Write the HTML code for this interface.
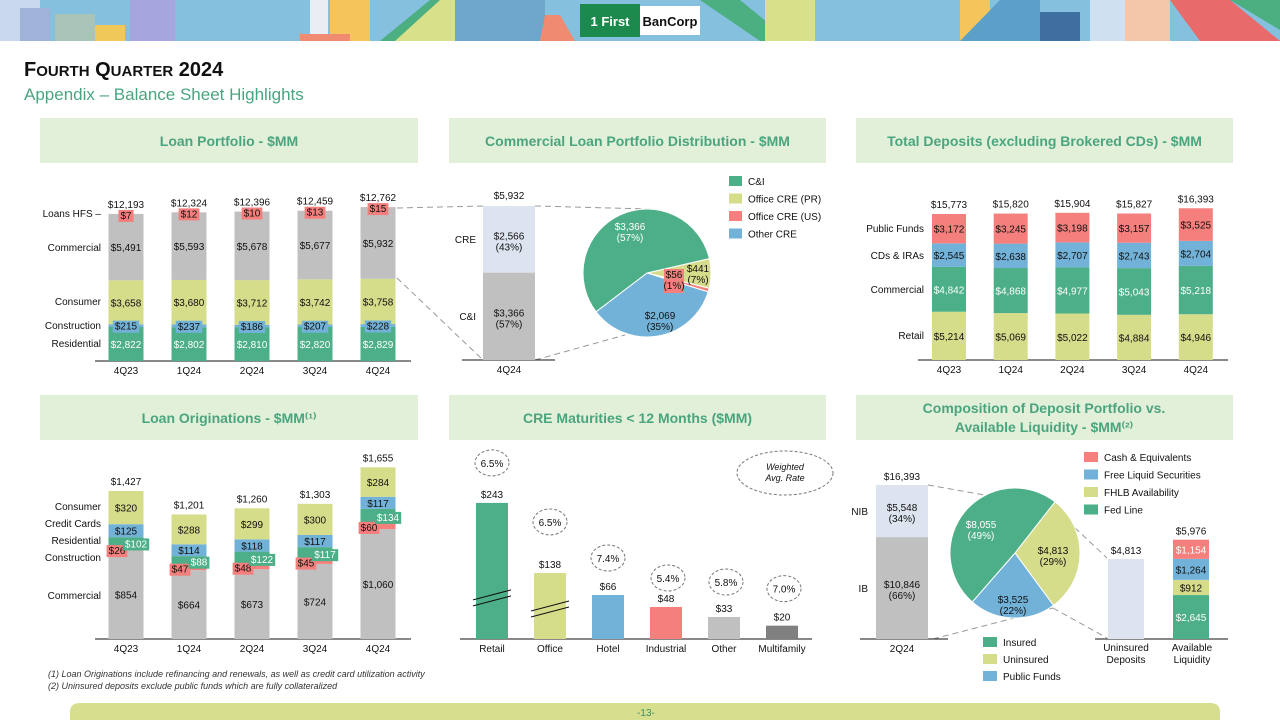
<!DOCTYPE html>
<html><head><meta charset="utf-8">
<style>
html,body{margin:0;padding:0;background:#fff;}
body{width:1280px;height:720px;overflow:hidden;font-family:"Liberation Sans",sans-serif;}
svg{display:block}
</style></head>
<body>
<svg id="s" width="1280" height="720" viewBox="0 0 1280 720" xmlns="http://www.w3.org/2000/svg">
<g>
<rect x="0" y="0" width="1280" height="41" fill="#86c0df"/>
<rect x="0" y="0" width="40" height="41" fill="#c9d8ef"/>
<rect x="20" y="8" width="30" height="33" fill="#9fb3d8"/>
<rect x="55" y="14" width="40" height="27" fill="#a8c4b8"/>
<rect x="95" y="25" width="30" height="16" fill="#f0c85a"/>
<rect x="130" y="0" width="45" height="41" fill="#a7a5de"/>
<rect x="310" y="0" width="18" height="34" fill="#e9eef5"/>
<rect x="330" y="0" width="40" height="41" fill="#f5c45a"/>
<rect x="300" y="34" width="50" height="7" fill="#f08a70"/>
<polygon points="380,41 430,0 460,0 460,41" fill="#4caf82"/>
<polygon points="395,41 440,0 455,0 455,41" fill="#d8e08a"/>
<rect x="455" y="0" width="90" height="41" fill="#6fa7cc"/>
<polygon points="540,41 545,15 560,15 575,41" fill="#f08a70"/>
<polygon points="700,0 760,41 790,41 740,0" fill="#4caf82"/>
<rect x="765" y="0" width="50" height="41" fill="#d8e08a"/>
<rect x="960" y="0" width="30" height="41" fill="#f5c45a"/>
<polygon points="960,41 1000,0 1040,0 1040,41" fill="#5aa0c8"/>
<rect x="1040" y="12" width="40" height="29" fill="#3e6fa0"/>
<rect x="1090" y="0" width="35" height="41" fill="#cfe0f0"/>
<rect x="1125" y="0" width="45" height="41" fill="#f3c7a8"/>
<polygon points="1170,0 1230,0 1280,41 1200,41" fill="#e86a6a"/>
<polygon points="1230,0 1280,0 1280,30" fill="#4caf82"/>
<rect x="580" y="4" width="60" height="33" fill="#1c8a4c"/>
<rect x="640" y="6" width="60" height="29" fill="#fff"/>
<text x="610" y="26" font-size="13" font-weight="bold" fill="#fff" text-anchor="middle">1 First</text>
<text x="670" y="26" font-size="13" font-weight="bold" fill="#111" text-anchor="middle">BanCorp</text>
</g>
<text x="24" y="76" font-size="20" font-weight="bold" fill="#111">F<tspan font-size="15">OURTH</tspan> Q<tspan font-size="15">UARTER</tspan> 2024</text>
<text x="24" y="100" font-size="17" fill="#4aa57f">Appendix – Balance Sheet Highlights</text>
<g id="hdrs"></g>
<g id="lines" fill="none" stroke="#999" stroke-dasharray="6,4" stroke-width="1"></g>
<g id="c1"></g><g id="c2"></g><g id="c3"></g><g id="c4"></g><g id="c5"></g><g id="c6"></g>
<text x="48" y="677" font-size="9" font-style="italic" fill="#333">(1)     Loan Originations include refinancing and renewals, as well as credit card utilization activity</text>
<text x="48" y="689" font-size="9" font-style="italic" fill="#333">(2)     Uninsured deposits exclude public funds which are fully collateralized</text>
<path d="M70,720 L70,712 Q70,703 80,703 L1210,703 Q1220,703 1220,712 L1220,720 Z" fill="#d5df8e"/>
<text x="646" y="716" font-size="10" fill="#3f8f65" text-anchor="middle">-13-</text>
</svg>
<script>
// ---- data ----
const quarters = ['4Q23','1Q24','2Q24','3Q24','4Q24'];
const loanResidential = [2822,2802,2810,2820,2829];
const loanConstruction = [215,237,186,207,228];
const loanConsumer = [3658,3680,3712,3742,3758];
const loanCommercial = [5491,5593,5678,5677,5932];
const loanHFS = [7,12,10,13,15];
const loanTotals = ['$12,193','$12,324','$12,396','$12,459','$12,762'];

const commCI = 3366;
const commCRE = 2566;
const pieCatNames = ['Office CRE (PR)','Office CRE (US)','Other CRE','C&I'];
const pieCatValues = [441,56,2069,3366];
const pieCatPct = ['7%','1%','35%','57%'];

const depRetail = [5214,5069,5022,4884,4946];
const depCommercial = [4842,4868,4977,5043,5218];
const depCDs = [2545,2638,2707,2743,2704];
const depPublic = [3172,3245,3198,3157,3525];
const depTotals = ['$15,773','$15,820','$15,904','$15,827','$16,393'];

const origCommercial = [854,664,673,724,1060];
const origConstruction = [26,47,48,45,60];
const origResidential = [102,88,122,117,134];
const origCards = [125,114,118,117,117];
const origConsumer = [320,288,299,300,284];
const origTotals = ['$1,427','$1,201','$1,260','$1,303','$1,655'];

const creCats = ['Retail','Office','Hotel','Industrial','Other','Multifamily'];
const creValues = [243,138,66,48,33,20];
const creRates = ['6.5%','6.5%','7.4%','5.4%','5.8%','7.0%'];

const depNIB = 5548, depIB = 10846;
const depTotal2Q24 = '$16,393';
const compNames = ['Uninsured','Public Funds','Insured'];
const compValues = [4813,3525,8055];
const compPct = ['29%','22%','49%'];
const liqNames = ['Fed Line','FHLB Availability','Free Liquid Securities','Cash & Equivalents'];
const liqValues = [2645,912,1264,1154];
const liqTotal = '$5,976';

// ---- helpers ----
const NS='http://www.w3.org/2000/svg';
const G='#4daf88',Y='#d5dc8a',B='#72b2d8',P='#f47f7c',GR='#c0c0c0',LB='#dde4ef',DG='#808080';
const fmt=v=>'$'+v.toLocaleString('en-US');
function mk(p,tag,attrs,name){const e=document.createElementNS(NS,tag);for(const k in attrs)e.setAttribute(k,attrs[k]);


p.appendChild(e);return e;}
function tx(p,x,y,s,name,o={}){const e=mk(p,'text',{x:x,y:y,'font-size':o.fs||10,fill:o.fill||'#111','text-anchor':o.anchor||'middle','font-style':o.it||'normal','font-weight':o.fw||'normal'},name);e.textContent=s;return e;}
function boxLabel(p,x,y,s,bg,name,fill){const w=s.length*5.6+4;mk(p,'rect',{x:x-w/2,y:y-9,width:w,height:12,fill:bg},name+'-bg');tx(p,x,y,s,name,{fill:fill||'#111'});}
const $=id=>document.getElementById(id);

// headers
const hd=$('hdrs');
[[40,118,378,45,'Loan Portfolio - $MM'],[449,118,377,45,'Commercial Loan Portfolio Distribution - $MM'],[856,118,377,45,'Total Deposits (excluding Brokered CDs) - $MM'],
 [40,395,378,45,'Loan Originations - $MM⁽¹⁾'],[449,395,377,45,'CRE Maturities < 12 Months ($MM)'],[856,395,377,45,'']].forEach((h,i)=>{
 mk(hd,'rect',{x:h[0],y:h[1],width:h[2],height:h[3],fill:'#e2efd9'},'panel-header-'+i);
 if(h[4])tx(hd,h[0]+h[2]/2,h[1]+28,h[4],'panel-title-'+i,{fs:14,fw:'bold',fill:'#4aa57f'});
});
tx(hd,1044,413,'Composition of Deposit Portfolio vs.','panel-title-5a',{fs:14,fw:'bold',fill:'#4aa57f'});
tx(hd,1044,432,'Available Liquidity - $MM⁽²⁾','panel-title-5b',{fs:14,fw:'bold',fill:'#4aa57f'});

// chart 1 loan portfolio
(function(){const g=$('c1');const base=361,s=0.01206,cx=i=>126+i*63,w=35;
 mk(g,'line',{x1:95,y1:base,x2:411,y2:base,stroke:'#111'},'x-axis');
 quarters.forEach((q,i)=>{let y=base;
  const segs=[[loanResidential[i],G,'residential'],[loanConstruction[i],B,'construction'],[loanConsumer[i],Y,'consumer'],[loanCommercial[i],GR,'commercial'],[loanHFS[i],P,'hfs']];
  const mids=[];
  segs.forEach(sg=>{const h=sg[0]*s;y-=h;mk(g,'rect',{x:cx(i)-w/2,y:y,width:w,height:h,fill:sg[1]},'bar-'+sg[2]+'-'+q);mids.push(y+h/2);});
  tx(g,cx(i),mids[0]+4,fmt(segs[0][0]),'label-residential-'+q,{fill:'#fff'});
  boxLabel(g,cx(i),mids[1]+4,fmt(segs[1][0]),B,'label-construction-'+q);
  tx(g,cx(i),mids[2]+4,fmt(segs[2][0]),'label-consumer-'+q);
  tx(g,cx(i),mids[3]+4,fmt(segs[3][0]),'label-commercial-'+q);
  boxLabel(g,cx(i),y+5,fmt(segs[4][0]),P,'label-hfs-'+q);
  tx(g,cx(i),y-6,loanTotals[i],'total-'+q);
  tx(g,cx(i),base+13,q,'x-tick-'+q);
 });
 [['Loans HFS –',217],['Commercial',251],['Consumer',305],['Construction',329],['Residential',347]].forEach(l=>tx(g,101,l[1],l[0],'series-label-'+l[0].replace(/\W+/g,'-').toLowerCase(),{anchor:'end'}));
})();

// chart 2 commercial distribution
(function(){const g=$('c2');const base=360,s=154/5932,x0=483,w=52;
 mk(g,'line',{x1:462,y1:base,x2:555,y2:base,stroke:'#111'},'x-axis');
 const hCI=commCI*s,hCRE=commCRE*s;
 mk(g,'rect',{x:x0,y:base-hCI,width:w,height:hCI,fill:GR},'bar-ci');
 mk(g,'rect',{x:x0,y:base-hCI-hCRE,width:w,height:hCRE,fill:LB},'bar-cre');
 const tot=commCI+commCRE;
 tx(g,x0+w/2,base-hCI/2,fmt(commCI),'label-ci');tx(g,x0+w/2,base-hCI/2+11,'('+Math.round(commCI/tot*100)+'%)','label-ci-pct');
 tx(g,x0+w/2,base-hCI-hCRE/2,fmt(commCRE),'label-cre');tx(g,x0+w/2,base-hCI-hCRE/2+11,'('+Math.round(commCRE/tot*100)+'%)','label-cre-pct');
 tx(g,x0+w/2,base-hCI-hCRE-7,fmt(tot),'total-4q24');
 tx(g,x0+w/2,base+13,'4Q24','x-tick-4q24');
 tx(g,476,243,'CRE','series-label-cre',{anchor:'end'});tx(g,476,320,'C&I','series-label-ci',{anchor:'end'});
 const cxp=647,cyp=273,r=64;const cols=[Y,P,B,G];const sum=pieCatValues.reduce((a,b)=>a+b,0);let a=-13*Math.PI/180;
 pieCatValues.forEach((v,i)=>{const da=v/sum*2*Math.PI;const a2=a+da;
  const x1=cxp+r*Math.cos(a),y1=cyp+r*Math.sin(a),x2=cxp+r*Math.cos(a2),y2=cyp+r*Math.sin(a2);
  mk(g,'path',{d:`M${cxp},${cyp}L${x1},${y1}A${r},${r} 0 ${da>Math.PI?1:0} 1 ${x2},${y2}Z`,fill:cols[i],stroke:'#fff','stroke-width':1},'pie-slice-'+pieCatNames[i].replace(/\W+/g,'-').toLowerCase());
  a=a2;});
 tx(g,630,230,fmt(3366),'pie-label-ci',{fill:'#fff'});tx(g,630,241,'(57%)','pie-label-ci-pct',{fill:'#fff'});
 tx(g,660,319,fmt(2069),'pie-label-other');tx(g,660,330,'(35%)','pie-label-other-pct');
 mk(g,'rect',{x:664,y:269,width:20,height:24,fill:P},'pie-label-us-bg');
 tx(g,674,278,'$56','pie-label-us');tx(g,674,289,'(1%)','pie-label-us-pct');
 tx(g,698,272,'$441','pie-label-pr');tx(g,698,283,'(7%)','pie-label-pr-pct');
 ['C&I','Office CRE (PR)','Office CRE (US)','Other CRE'].forEach((n,i)=>{const y=176+i*17.5;mk(g,'rect',{x:729,y:y,width:13,height:10,fill:[G,Y,P,B][i]},'legend-swatch-'+i);tx(g,748,y+9,n,'legend-entry-'+i,{anchor:'start'});});
})();

// chart 3 deposits
(function(){const g=$('c3');const base=360,s=146/15773,cx=i=>949+i*61.7,w=34;
 mk(g,'line',{x1:918,y1:base,x2:1228,y2:base,stroke:'#111'},'x-axis');
 quarters.forEach((q,i)=>{let y=base;const segs=[[depRetail[i],Y,'retail','#111'],[depCommercial[i],G,'commercial','#fff'],[depCDs[i],B,'cds','#111'],[depPublic[i],P,'public','#111']];
  segs.forEach(sg=>{const h=sg[0]*s;y-=h;mk(g,'rect',{x:cx(i)-w/2,y:y,width:w,height:h,fill:sg[1]},'bar-'+sg[2]+'-'+q);tx(g,cx(i),y+h/2+4,fmt(sg[0]),'label-'+sg[2]+'-'+q,{fill:sg[3]});});
  tx(g,cx(i),y-6,depTotals[i],'total-'+q);tx(g,cx(i),base+13,q,'x-tick-'+q);});
 [['Public Funds',232],['CDs & IRAs',259],['Commercial',293],['Retail',339]].forEach(l=>tx(g,924,l[1],l[0],'series-label-'+l[0].replace(/\W+/g,'-').toLowerCase(),{anchor:'end'}));
})();

// chart 4 originations
(function(){const g=$('c4');const base=639,s=148/1427,cx=i=>126+i*63,w=35;
 mk(g,'line',{x1:95,y1:base,x2:411,y2:base,stroke:'#111'},'x-axis');
 quarters.forEach((q,i)=>{let y=base;const segs=[[origCommercial[i],GR,'commercial'],[origConstruction[i],P,'construction'],[origResidential[i],G,'residential'],[origCards[i],B,'cards'],[origConsumer[i],Y,'consumer']];const m=[];
  segs.forEach(sg=>{const h=sg[0]*s;y-=h;mk(g,'rect',{x:cx(i)-w/2,y:y,width:w,height:h,fill:sg[1]},'bar-'+sg[2]+'-'+q);m.push(y+h/2);});
  tx(g,cx(i),m[0]+4,fmt(segs[0][0]),'label-commercial-'+q);
  boxLabel(g,cx(i)-9,m[1]+5,fmt(segs[1][0]),P,'label-construction-'+q);
  boxLabel(g,cx(i)+10,m[2]+5,fmt(segs[2][0]),G,'label-residential-'+q,'#fff');
  tx(g,cx(i),m[3]+4,fmt(segs[3][0]),'label-cards-'+q);
  tx(g,cx(i),m[4]+4,fmt(segs[4][0]),'label-consumer-'+q);
  tx(g,cx(i),y-6,origTotals[i],'total-'+q);tx(g,cx(i),base+13,q,'x-tick-'+q);});
 [['Consumer',510],['Credit Cards',527],['Residential',544],['Construction',561],['Commercial',599]].forEach(l=>tx(g,101,l[1],l[0],'series-label-'+l[0].replace(/\W+/g,'-').toLowerCase(),{anchor:'end'}));
})();

// chart 5 CRE maturities
(function(){const g=$('c5');const base=639,s=0.667,brk=26,cx=i=>492+i*58,w=32;const cols=[G,Y,B,P,GR,DG];
 mk(g,'line',{x1:460,y1:base,x2:812,y2:base,stroke:'#111'},'x-axis');
 const offs=[40,51,37,29,35,37];
 creValues.forEach((v,i)=>{const h=v>100?v*s-brk:v*s;const top=base-h;
  mk(g,'rect',{x:cx(i)-w/2,y:top,width:w,height:h,fill:cols[i]},'bar-'+creCats[i].toLowerCase());
  tx(g,cx(i),top-5,fmt(v),'label-'+creCats[i].toLowerCase());
  tx(g,cx(i),base+13,creCats[i],'x-tick-'+creCats[i].toLowerCase());
  const ey=top-offs[i];mk(g,'ellipse',{cx:cx(i)+(i>2?2:0),cy:ey,rx:17,ry:13,fill:'none',stroke:'#777','stroke-dasharray':'3,2'},'rate-bubble-'+creCats[i].toLowerCase());
  tx(g,cx(i)+(i>2?2:0),ey+4,creRates[i],'rate-'+creCats[i].toLowerCase());
  if(v>100){const by=base-h+(i==0?92:33);[0,6].forEach(d=>mk(g,'line',{x1:cx(i)-19,y1:by+d+5,x2:cx(i)+19,y2:by+d-5,stroke:'#111'},'axis-break-'+creCats[i].toLowerCase()));}
 });
 mk(g,'ellipse',{cx:785,cy:473,rx:48,ry:22,fill:'none',stroke:'#777','stroke-dasharray':'3,2'},'weighted-rate-note-bubble');
 tx(g,785,470,'Weighted','weighted-rate-note-1',{fs:9,it:'italic'});tx(g,785,481,'Avg. Rate','weighted-rate-note-2',{fs:9,it:'italic'});
})();

// chart 6 deposit composition
(function(){const g=$('c6');const base=639,s=154/16393;
 mk(g,'line',{x1:860,y1:base,x2:948,y2:base,stroke:'#111'},'x-axis-left');
 mk(g,'line',{x1:1095,y1:base,x2:1228,y2:base,stroke:'#111'},'x-axis-right');
 const hIB=depIB*s,hNIB=depNIB*s,tot=depIB+depNIB;
 mk(g,'rect',{x:876,y:base-hIB,width:52,height:hIB,fill:GR},'bar-ib');
 mk(g,'rect',{x:876,y:base-hIB-hNIB,width:52,height:hNIB,fill:LB},'bar-nib');
 tx(g,902,base-hIB/2,fmt(depIB),'label-ib');tx(g,902,base-hIB/2+11,'('+Math.round(depIB/tot*100)+'%)','label-ib-pct');
 tx(g,902,base-hIB-hNIB/2,fmt(depNIB),'label-nib');tx(g,902,base-hIB-hNIB/2+11,'('+Math.round(depNIB/tot*100)+'%)','label-nib-pct');
 tx(g,902,base-hIB-hNIB-5,depTotal2Q24,'total-2q24');tx(g,902,base+13,'2Q24','x-tick-2q24');
 tx(g,868,515,'NIB','series-label-nib',{anchor:'end'});tx(g,868,592,'IB','series-label-ib',{anchor:'end'});
 const cxp=1015,cyp=553,r=65;const cols=[Y,B,G];const sum=compValues.reduce((a,b)=>a+b,0);let a=-52*Math.PI/180;
 compValues.forEach((v,i)=>{const da=v/sum*2*Math.PI,a2=a+da;const x1=cxp+r*Math.cos(a),y1=cyp+r*Math.sin(a),x2=cxp+r*Math.cos(a2),y2=cyp+r*Math.sin(a2);
  mk(g,'path',{d:`M${cxp},${cyp}L${x1},${y1}A${r},${r} 0 ${da>Math.PI?1:0} 1 ${x2},${y2}Z`,fill:cols[i],stroke:'#fff','stroke-width':1},'pie-slice-'+compNames[i].replace(/\W+/g,'-').toLowerCase());a=a2;});
 tx(g,981,528,fmt(8055),'pie-label-insured',{fill:'#fff'});tx(g,981,539,'('+compPct[2]+')','pie-label-insured-pct',{fill:'#fff'});
 tx(g,1053,554,fmt(4813),'pie-label-uninsured');tx(g,1053,565,'('+compPct[0]+')','pie-label-uninsured-pct');
 tx(g,1013,603,fmt(3525),'pie-label-public');tx(g,1013,614,'('+compPct[1]+')','pie-label-public-pct');
 const ls=0.01662;const hU=compValues[0]*ls;
 mk(g,'rect',{x:1108,y:base-hU,width:36,height:hU,fill:LB},'bar-uninsured-deposits');
 tx(g,1126,base-hU-5,fmt(compValues[0]),'label-uninsured-deposits');
 let y=base;const lc=[G,Y,B,P];const lf=['#fff','#111','#111','#fff'];
 liqValues.forEach((v,i)=>{const h=v*ls;y-=h;mk(g,'rect',{x:1173,y:y,width:36,height:h,fill:lc[i]},'bar-liquidity-'+liqNames[i].replace(/\W+/g,'-').toLowerCase());tx(g,1191,y+h/2+4,fmt(v),'label-liquidity-'+i,{fill:lf[i]});});
 tx(g,1191,y-5,liqTotal,'total-liquidity');
 tx(g,1126,651,'Uninsured','x-tick-uninsured-1');tx(g,1126,663,'Deposits','x-tick-uninsured-2');
 tx(g,1192,651,'Available','x-tick-liquidity-1');tx(g,1192,663,'Liquidity','x-tick-liquidity-2');
 ['Cash & Equivalents','Free Liquid Securities','FHLB Availability','Fed Line'].forEach((n,i)=>{const yy=452+i*17.5;mk(g,'rect',{x:1084,y:yy,width:14,height:10,fill:[P,B,Y,G][i]},'legend-swatch-liq-'+i);tx(g,1104,yy+9,n,'legend-entry-liq-'+i,{anchor:'start'});});
 ['Insured','Uninsured','Public Funds'].forEach((n,i)=>{const yy=637+i*17;mk(g,'rect',{x:983,y:yy,width:14,height:10,fill:[G,Y,B][i]},'legend-swatch-dep-'+i);tx(g,1003,yy+9,n,'legend-entry-dep-'+i,{anchor:'start'});});
})();

// connector lines
(function(){const g=$('lines');
 [[397,208,483,206],[397,278,483,360],[535,206,650,209],[535,360,625,335],[928,485,1052,507],[933,639,1053,608],[1053,507,1107,558],[1053,608,1107,638]].forEach((l,i)=>
  mk(g,'line',{x1:l[0],y1:l[1],x2:l[2],y2:l[3]},'connector-line-'+i));
})();
</script>
</body></html>
